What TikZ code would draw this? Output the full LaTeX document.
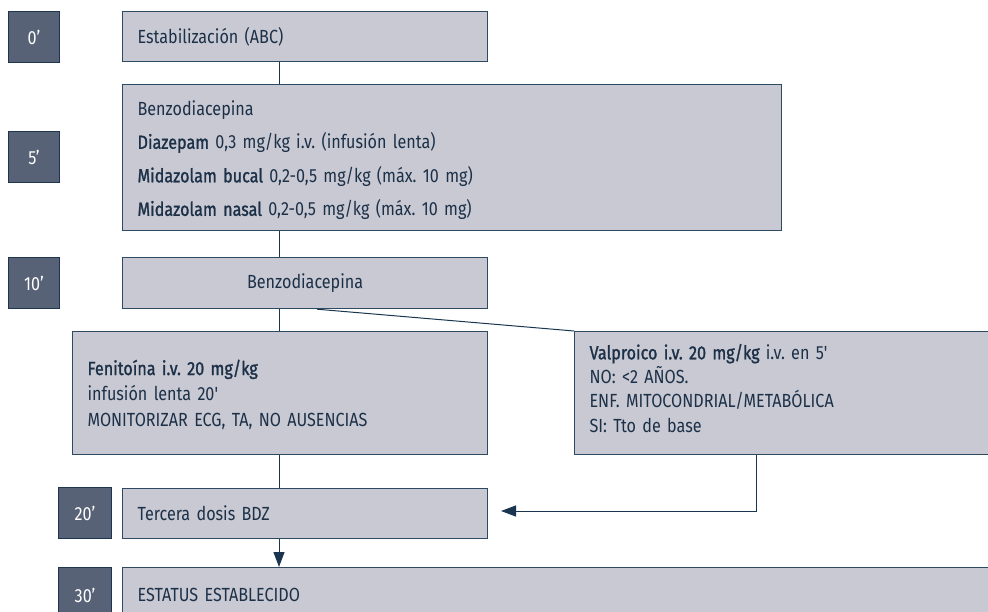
\documentclass[tikz,border=0pt]{standalone}
\usepackage{fontspec}
\setmainfont{Fira Sans}[FakeStretch=0.85, BoldFont={Fira Sans}, BoldFeatures={FakeBold=1.3}]
\newfontfamily\regf{Fira Sans}[FakeStretch=0.85]
\usetikzlibrary{arrows.meta}
\frenchspacing
\definecolor{boxfill}{HTML}{C8C9D2}
\definecolor{boxline}{HTML}{2E4A63}
\definecolor{timefill}{HTML}{586276}
\definecolor{timeline}{HTML}{1E3550}
\definecolor{txt}{HTML}{1C3048}
\definecolor{conncol}{HTML}{1A3550}
\tikzset{
  box/.style={draw=boxline, line width=1.2pt, fill=boxfill, anchor=north west,
    inner xsep=15pt, inner ysep=0pt, align=left, text=txt,
    font=\fontsize{19}{25.5}\selectfont},
  timebox/.style={draw=timeline, line width=1pt, fill=timefill, text=white,
    font=\regf\fontsize{19}{20}\selectfont, anchor=north west,
    minimum width=51pt, minimum height=51pt, inner sep=0pt},
  conn/.style={draw=conncol, line width=1pt},
  arr/.style={conn, -{Triangle[length=15pt,width=11pt]}}
}
\begin{document}
\begin{tikzpicture}[x=1pt,y=-1pt]
\useasboundingbox (0,0) rectangle (988,612);
\clip (0,0) rectangle (988,612);
% time boxes
\node[timebox] (t0) at (8,11) {0’};
\node[timebox] (t5) at (8,131) {5’};
\node[timebox] (t10) at (8,257) {10’};
\node[timebox, minimum width=53pt] (t20) at (58,487) {20’};
\node[timebox, minimum width=53pt, minimum height=55pt] (t30) at (58,567) {30’};
% main boxes
\node[box, text width=335pt, minimum height=50pt, font=\regf\fontsize{19}{25}\selectfont] (b1) at (122,11) {Estabilización (ABC)};
\node[box, text width=629pt, minimum height=146pt, font=\fontsize{19}{33.5}\selectfont] (b2) at (122,84)
  {\rule{0pt}{20pt}{\regf Benzodiacepina}\\
   \textbf{Diazepam} 0,3 mg/kg i.v. (infusión lenta)\\
   \textbf{Midazolam bucal} 0,2-0,5 mg/kg (máx. 10 mg)\\
   \textbf{Midazolam nasal} 0,2-0,5 mg/kg (máx. 10 mg)};
\node[box, text width=335pt, minimum height=51pt, align=center, font=\regf\fontsize{19}{25}\selectfont] (b3) at (122,257) {Benzodiacepina};
\node[box, text width=385pt, minimum height=123pt] (fen) at (72,331)
  {\rule{0pt}{18pt}\textbf{Fenitoína i.v. 20 mg/kg}\\
   infusión lenta 20\textquotesingle\\
   MONITORIZAR ECG, TA, NO AUSENCIAS};
\node[box, text width=420pt, minimum height=123pt, font=\fontsize{19}{24.3}\selectfont] (valp) at (574,331)
  {\textbf{Valproico i.v. 20 mg/kg} i.v. en 5\textquotesingle\\
   NO: <2 AÑOS.\\
   ENF. MITOCONDRIAL/METABÓLICA\\
   SI: Tto de base\rule[-10pt]{0pt}{10pt}};
\node[box, text width=335pt, minimum height=50pt, font=\regf\fontsize{19}{25}\selectfont] (terc) at (122,488) {Tercera dosis BDZ};
\node[box, text width=870pt, minimum height=55pt, font=\regf\fontsize{19}{25}\selectfont] (est) at (122,567) {ESTATUS ESTABLECIDO};
% connector guides
\coordinate (cx) at (279,0);
\coordinate (cd) at (317,0);
\coordinate (cv) at (756,0);
\coordinate (tipv) at (501,511);
\draw[conn] (b1.south -| cx) -- (b2.north -| cx);
\draw[conn] (b2.south -| cx) -- (b3.north -| cx);
\draw[conn] (b3.south -| cx) -- (fen.north -| cx);
\draw[conn] (b3.south -| cd) -- (valp.north west);
\draw[conn] (fen.south -| cx) -- (terc.north -| cx);
\draw[arr] (valp.south -| cv) |- (tipv);
\draw[arr] (terc.south -| cx) -- (est.north -| cx);
\end{tikzpicture}
\end{document}
